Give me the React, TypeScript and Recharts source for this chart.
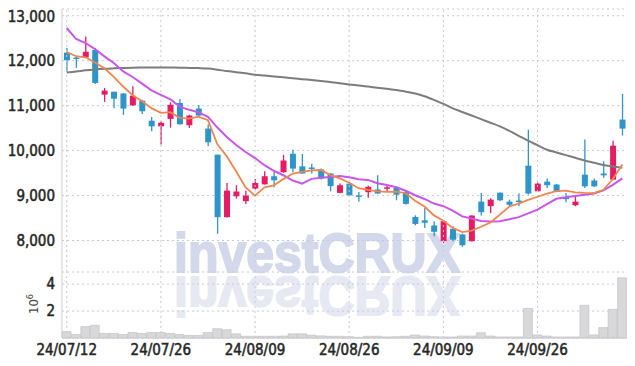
import { ComposedChart, BarChart, Bar, Line, XAxis, YAxis, CartesianGrid, ReferenceLine } from 'recharts'

const dates = [
  '24/07/12', '24/07/15', '24/07/16', '24/07/17', '24/07/18', '24/07/19', '24/07/22', '24/07/23', '24/07/24', '24/07/25',
  '24/07/26', '24/07/29', '24/07/30', '24/07/31', '24/08/01', '24/08/02', '24/08/05', '24/08/06', '24/08/07', '24/08/08',
  '24/08/09', '24/08/12', '24/08/13', '24/08/14', '24/08/16', '24/08/19', '24/08/20', '24/08/21', '24/08/22', '24/08/23',
  '24/08/26', '24/08/27', '24/08/28', '24/08/29', '24/08/30', '24/09/02', '24/09/03', '24/09/04', '24/09/05', '24/09/06',
  '24/09/09', '24/09/10', '24/09/11', '24/09/12', '24/09/13', '24/09/19', '24/09/20', '24/09/23', '24/09/24', '24/09/25',
  '24/09/26', '24/09/27', '24/09/30', '24/10/02', '24/10/04', '24/10/07', '24/10/08', '24/10/10', '24/10/11', '24/10/14',
]

const opens = [
  12180, 12070, 12075, 12240, 11245, 11310, 11270, 11005, 11110, 10665,
  10540, 10705, 11060, 10565, 10935, 10490, 9910, 8520, 8985, 8875,
  9155, 9250, 9430, 9520, 9930, 9650, 9625, 9580, 9490, 9060,
  9265, 9005, 9075, 9135, 9155, 9170, 9075, 8525, 8450, 8335,
  7985, 8260, 8135, 7985, 8865, 8765, 9065, 8865, 8890, 9665,
  9095, 9310, 9245, 8965, 8785, 9465, 9335, 9490, 9355, 10690,
]
const highs = [
  12280, 12100, 12540, 12280, 11395, 11310, 11280, 11430, 11130, 10750,
  10650, 11075, 11150, 10800, 11015, 10580, 9910, 9280, 9230, 9110,
  9370, 9540, 9540, 9905, 10020, 9925, 9710, 9600, 9500, 9270,
  9300, 9080, 9220, 9450, 9245, 9210, 9100, 8560, 8725, 8430,
  8450, 8320, 8155, 8560, 9060, 8940, 9070, 8910, 9045, 10465,
  9290, 9380, 9260, 9060, 8985, 10245, 9380, 9765, 10220, 11260,
]
const lows = [
  11760, 11840, 12070, 11480, 11085, 10940, 10795, 11000, 10815, 10430,
  10135, 10510, 10580, 10505, 10770, 10095, 8150, 8510, 8935, 8815,
  9135, 9245, 9185, 9505, 9525, 9485, 9490, 9360, 9095, 9050,
  9000, 8860, 8950, 9040, 9100, 8895, 8800, 8340, 8280, 8095,
  7940, 7985, 7860, 7980, 8555, 8615, 8880, 8765, 8765, 9020,
  9090, 9170, 9075, 8850, 8765, 9170, 9195, 9395, 9350, 10335,
]
const closes = [
  12010, 12050, 12200, 11505, 11335, 11155, 10935, 11220, 10875, 10540,
  10620, 11020, 10585, 10780, 10780, 10185, 8520, 9110, 9090, 9000,
  9280, 9430, 9340, 9780, 9600, 9490, 9595, 9380, 9210, 9230,
  9005, 8990, 9195, 9045, 9185, 9020, 8815, 8370, 8395, 8195,
  8430, 8020, 7895, 8555, 8630, 8910, 8895, 8795, 8870, 9045,
  9265, 9230, 9080, 8920, 8865, 9205, 9205, 9450, 10110, 10490,
]

const ma5 = [
  12190, 12100, 12075, 11960, 11830, 11640, 11426, 11230, 11100, 10945,
  10840, 10855, 10730, 10710, 10757, 10675, 10140, 9875, 9537, 9181,
  9000, 9182, 9228, 9366, 9486, 9528, 9561, 9569, 9455, 9381,
  9284, 9163, 9126, 9093, 9084, 9087, 9052, 8887, 8757, 8559,
  8441, 8282, 8187, 8219, 8306, 8402, 8577, 8757, 8820, 8903,
  8974, 9041, 9098, 9108, 9072, 9060, 9055, 9129, 9367, 9692,
]
const ma10 = [
  12727, 12482, 12393, 12260, 12096, 11948, 11762, 11638, 11489, 11340,
  11240, 11141, 10979, 10907, 10851, 10754, 10513, 10302, 10123, 9969,
  9835, 9676, 9552, 9452, 9334, 9264, 9372, 9399, 9411, 9434,
  9406, 9362, 9348, 9274, 9233, 9186, 9108, 9007, 8925, 8822,
  8764, 8667, 8537, 8488, 8433, 8422, 8430, 8472, 8520, 8605,
  8688, 8809, 8928, 8964, 8988, 9017, 9048, 9114, 9238, 9382,
]
const maLong = [
  11740, 11760, 11785, 11805, 11820, 11830, 11838, 11845, 11848, 11850,
  11850, 11848, 11845, 11840, 11835, 11825, 11800, 11770, 11745, 11720,
  11690, 11670, 11650, 11630, 11612, 11590, 11570, 11548, 11525, 11500,
  11470, 11450, 11425, 11400, 11375, 11350, 11310, 11270, 11210, 11130,
  11040, 10940, 10860, 10780, 10700, 10620, 10540, 10440, 10330, 10220,
  10120, 10020, 9960, 9900, 9840, 9780, 9730, 9680, 9645, 9620,
]

// volume, in millions of shares
const volumes = [
  0.47, 0.26, 0.85, 0.94, 0.34, 0.34, 0.26, 0.41, 0.34, 0.41,
  0.41, 0.34, 0.26, 0.19, 0.19, 0.41, 0.69, 0.62, 0.31, 0.13,
  0.13, 0.13, 0.13, 0.15, 0.31, 0.31, 0.21, 0.16, 0.13, 0.13,
  0.1, 0.05, 0.13, 0.13, 0.08, 0.1, 0.13, 0.22, 0.15, 0.1,
  0.08, 0.08, 0.15, 0.15, 0.39, 0.15, 0.08, 0.08, 0.08, 2.2,
  0.23, 0.15, 0.08, 0.08, 0.08, 2.43, 0.23, 0.77, 2.13, 4.47,
]

const priceTicks = [8000, 9000, 10000, 11000, 12000, 13000]
const volumeTicks = [2, 4]
const tickDates = dates.filter((_, i) => i % 10 === 0)

const UP = '#e31c64'
const DOWN = '#2e95c8'
const GRID = '#c5cadf'
const BORDER = '#cfcfd3'
const FONT = "'Liberation Sans Narrow', 'DejaVu Sans Condensed', sans-serif"

const data = dates.map((date, i) => ({
  date,
  open: opens[i],
  high: highs[i],
  low: lows[i],
  close: closes[i],
  ma5: ma5[i],
  ma10: ma10[i],
  maLong: maLong[i],
  volume: volumes[i],
}))

function Candle(props: any) {
  const { x, y, width, height, payload } = props
  const { open, close, high, low } = payload
  const top = Math.min(y, y + height)
  const h = Math.abs(height)
  const py = (v: number) => top + ((high - v) / (high - low)) * h
  const color = close >= open ? UP : DOWN
  const cx = x + width / 2
  const bTop = py(Math.max(open, close))
  const bBot = py(Math.min(open, close))
  return (
    <g>
      <line x1={cx} x2={cx} y1={top} y2={top + h} stroke={color} strokeWidth={1.3} />
      <rect x={cx - 3} y={bTop} width={6} height={Math.max(bBot - bTop, 1.5)} fill={color} />
    </g>
  )
}

// slight stroke to get the heavier look of the original labels
const tickStyle = { fontFamily: FONT, fontSize: 15, fill: '#262626', stroke: '#262626', strokeWidth: 0.5 }

function Watermark() {
  const common = {
    x: 166,
    textLength: 286,
    lengthAdjust: 'spacingAndGlyphs',
    fontFamily: "'Liberation Sans', sans-serif",
    fontWeight: 'bold',
    fontSize: 56,
    strokeWidth: 2,
  }
  return (
    <svg width={619} height={358} style={{ position: 'absolute', left: 0, top: 0, zIndex: 0 }}>
      <g transform="translate(0,530) scale(1,-1)">
        <text {...common} y={261} fill="#e7e9f2" stroke="#e7e9f2">
          investCRUX
        </text>
      </g>
      <text {...common} y={264} fill="#d3d8ea" stroke="#d3d8ea">
        investCRUX
      </text>
    </svg>
  )
}

export default function App() {
  return (
    <div style={{ position: 'relative', width: 619, height: 358 }}>
      <Watermark />
      <div style={{ position: 'relative', zIndex: 1 }}>
        <ComposedChart width={619} height={264} data={data} margin={{ top: 1, right: 0, bottom: 0, left: 0 }}>
          <CartesianGrid vertical={false} stroke={GRID} strokeDasharray="2 3" />
          <XAxis dataKey="date" hide />
          <XAxis xAxisId="top" dataKey="date" orientation="top" height={0} tick={false} tickLine={false} axisLine={{ stroke: BORDER }} />
          <XAxis xAxisId="bottom" dataKey="date" height={0} tick={false} tickLine={false} axisLine={{ stroke: BORDER }} />
          <YAxis
            domain={[7300, 13150]}
            ticks={priceTicks}
            width={54}
            tickLine={false}
            tickSize={0}
            tickMargin={7}
            axisLine={{ stroke: BORDER }}
            tick={tickStyle}
            tickFormatter={(v: number) => v.toLocaleString('en-US')}
          />
          <YAxis yAxisId="r" orientation="right" width={0} tick={false} tickLine={false} axisLine={{ stroke: BORDER }} />
          {tickDates.map((d) => (
            <ReferenceLine key={d} x={d} stroke={GRID} strokeDasharray="2 3" />
          ))}
          <Bar dataKey={(d: any) => [d.low, d.high]} shape={<Candle />} isAnimationActive={false} />
          <Line type="monotone" dataKey="maLong" stroke="#7d7d7d" strokeWidth={2} dot={false} isAnimationActive={false} />
          <Line type="linear" dataKey="ma10" stroke="#c956ea" strokeWidth={2} dot={false} isAnimationActive={false} />
          <Line type="linear" dataKey="ma5" stroke="#ee8650" strokeWidth={1.8} dot={false} isAnimationActive={false} />
        </ComposedChart>
        <BarChart width={619} height={94} data={data} barCategoryGap={0} margin={{ top: 0, right: 0, bottom: 0, left: 0 }}>
          <CartesianGrid vertical={false} stroke={GRID} strokeDasharray="2 3" />
          <XAxis
            dataKey="date"
            interval={9}
            height={28}
            tickLine={false}
            tickSize={0}
            tickMargin={6}
            axisLine={{ stroke: BORDER }}
            tick={tickStyle}
          />
          <YAxis
            domain={[0, 4.9]}
            ticks={volumeTicks}
            width={54}
            tickLine={false}
            tickSize={0}
            tickMargin={7}
            axisLine={{ stroke: BORDER }}
            tick={tickStyle}
            label={{
              content: () => (
                <text transform="translate(30,32) rotate(-90)" textAnchor="middle" fontFamily={FONT} fontSize={13} fill="#444">
                  10<tspan dy={-5} fontSize={9}>6</tspan>
                </text>
              ),
            }}
          />
          <YAxis yAxisId="r" orientation="right" width={0} tick={false} tickLine={false} axisLine={{ stroke: BORDER }} />
          {tickDates.map((d) => (
            <ReferenceLine key={d} x={d} stroke={GRID} strokeDasharray="2 3" />
          ))}
          <Bar dataKey="volume" fill="#d8d8db" stroke="#bdbdc1" strokeWidth={0.6} isAnimationActive={false} />
        </BarChart>
      </div>
    </div>
  )
}
